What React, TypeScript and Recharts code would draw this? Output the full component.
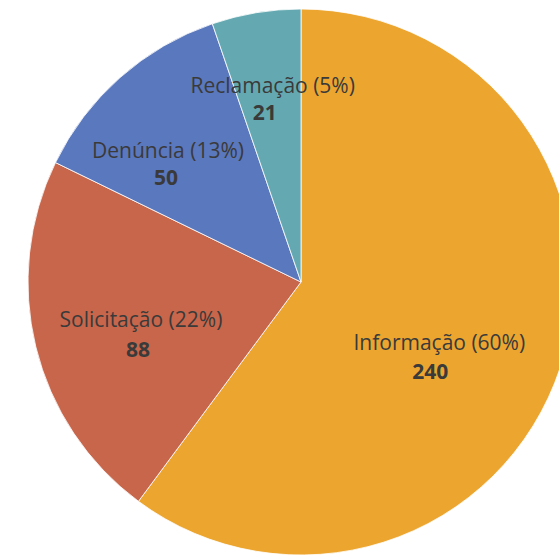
import { Cell, Pie, PieChart } from "recharts"

const CATEGORIES = ["Informação", "Solicitação", "Denúncia", "Reclamação"]
const VALUES = [240, 88, 50, 21]
const PERCENTS = ["60%", "22%", "13%", "5%"]

const COLORS = ["#ECA630", "#C8664B", "#5A78BE", "#64A9B1"]
const TEXT_COLOR = "#3a3a3a"
const FONT = "'Open Sans', Lato, sans-serif"
const RADIAN = Math.PI / 180

// manual nudges so labels sit where the original tool put them
const LABEL_NUDGE = [
  { dx: -25, dy: 14, gap: 29, vx: -9 },
  { dx: 7, dy: 4, gap: 30, vx: -3 },
  { dx: -19, dy: 5, gap: 27, vx: -2 },
  { dx: 0, dy: -19, gap: 27, vx: -8 },
]

const data = CATEGORIES.map((name, i) => ({ name, value: VALUES[i], pct: PERCENTS[i] }))

function renderLabel(props: any) {
  const { cx, cy, midAngle, outerRadius, index } = props
  const n = LABEL_NUDGE[index]
  const r = outerRadius * 0.63
  const x = cx + r * Math.cos(-midAngle * RADIAN) + n.dx
  const y = cy + r * Math.sin(-midAngle * RADIAN) + n.dy
  const d = data[index]
  return (
    <g>
      <text x={x} y={y} textAnchor="middle" fill={TEXT_COLOR} fontFamily={FONT} fontSize={21}>
        {`${d.name} (${d.pct})`}
      </text>
      <text
        x={x + n.vx}
        y={y + n.gap}
        textAnchor="middle"
        fill={TEXT_COLOR}
        fontFamily={FONT}
        fontSize={21}
        fontWeight="bold"
      >
        {d.value}
      </text>
    </g>
  )
}

export default function App() {
  return (
    <div style={{ position: "fixed", left: 0, top: 0, width: 559, height: 555, background: "#fff" }}>
      <PieChart width={559} height={555} margin={{ top: 0, right: 0, bottom: 0, left: 0 }}>
        <Pie
          data={data}
          dataKey="value"
          nameKey="name"
          cx={301}
          cy={282}
          outerRadius={273}
          startAngle={90}
          endAngle={-270}
          stroke="#ffffff"
          strokeWidth={0.8}
          label={renderLabel}
          labelLine={false}
          isAnimationActive={false}
        >
          {data.map((d, i) => (
            <Cell key={d.name} fill={COLORS[i]} />
          ))}
        </Pie>
      </PieChart>
    </div>
  )
}
